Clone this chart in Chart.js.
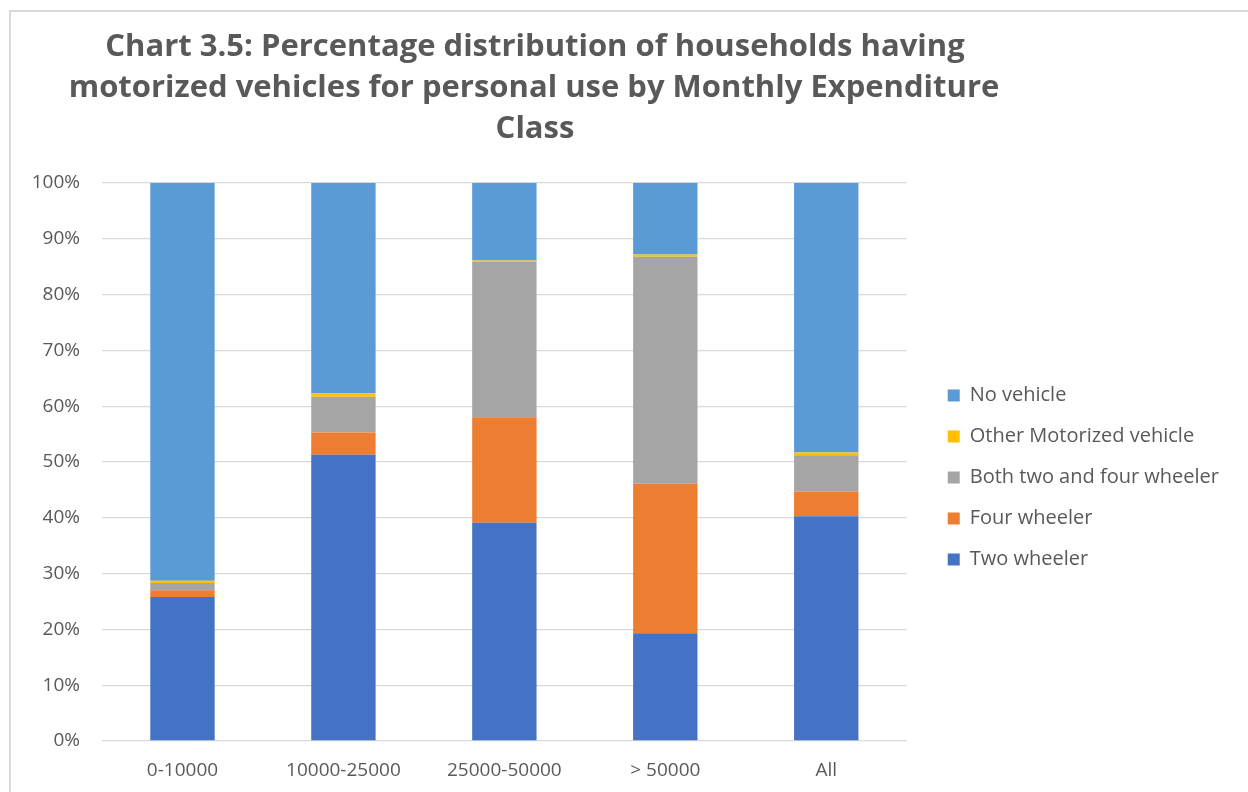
<!DOCTYPE html>
<html>
<head>
<meta charset="utf-8">
<script src="https://cdn.jsdelivr.net/npm/chart.js@4.4.1/dist/chart.umd.min.js"></script>
<style>
  html, body { margin: 0; padding: 0; background: #fff; }
  #wrap { position: relative; width: 1248px; height: 792px; }
</style>
</head>
<body>
<div id="wrap"><canvas id="c" width="1248" height="792"></canvas></div>
<script>
// data (percent of households)
var classes = ['0-10000', '10000-25000', '25000-50000', '> 50000', 'All']
var twoWheeler = [25.8, 51.3, 39.1, 19.3, 40.3]
var fourWheeler = [1.2, 4.0, 18.9, 26.8, 4.4]
var bothWheeler = [1.3, 6.4, 27.9, 40.7, 6.5]
var otherMotor = [0.4, 0.6, 0.2, 0.4, 0.5]
var noVehicle = [71.3, 37.7, 13.9, 12.8, 48.3]
var yTicks = [0, 10, 20, 30, 40, 50, 60, 70, 80, 90, 100]
var titleLines = ['Chart 3.5: Percentage distribution of households having',
  'motorized vehicles for personal use by Monthly Expenditure', 'Class']

var grey = '#595959'
var font = "'Open Sans', 'DejaVu Sans', sans-serif"

// title + outer frame, drawn straight on the canvas
var titlePlug = {
  id: 'titlePlug',
  beforeDraw: function (chart) {
    var ctx = chart.ctx
    ctx.save()
    ctx.fillStyle = '#fff'
    ctx.fillRect(0, 0, chart.width, chart.height)
    ctx.strokeStyle = '#d9d9d9'
    ctx.lineWidth = 2
    ctx.beginPath()
    ctx.moveTo(10, 792); ctx.lineTo(10, 11); ctx.lineTo(1248, 11)
    ctx.stroke()
    ctx.fillStyle = grey
    ctx.font = 'bold 31px ' + font
    ctx.textAlign = 'center'
    ctx.textBaseline = 'middle'
    ctx.fillText(titleLines[0], 535, 47, 860)
    ctx.fillText(titleLines[1], 534, 88, 933)
    ctx.fillText(titleLines[2], 535, 129)
    ctx.restore()
  }
}

function ds(label, data, color) {
  return { label: label, data: data, backgroundColor: color, borderWidth: 0,
    barPercentage: 0.4, categoryPercentage: 1.0 }
}

new Chart(document.getElementById('c'), {
  type: 'bar',
  data: {
    labels: classes,
    datasets: [
      ds('Two wheeler', twoWheeler, '#4472C4'),
      ds('Four wheeler', fourWheeler, '#ED7D31'),
      ds('Both two and four wheeler', bothWheeler, '#A5A5A5'),
      ds('Other Motorized vehicle', otherMotor, '#FFC000'),
      ds('No vehicle', noVehicle, '#5B9BD5')
    ]
  },
  options: {
    responsive: false,
    animation: false,
    devicePixelRatio: 1,
    layout: { padding: { top: 183, left: 20, right: 19, bottom: 0 } },
    plugins: {
      title: { display: false },
      tooltip: { enabled: false },
      legend: {
        position: 'right',
        reverse: true,
        fullSize: false,
        maxWidth: 400,
        title: { display: true, text: ' ', padding: 4, font: { size: 19 } },
        labels: {
          boxWidth: 12, boxHeight: 12, padding: 21, color: grey,
          font: { family: font, size: 20 }
        }
      }
    },
    scales: {
      x: {
        stacked: true,
        grid: { display: false },
        border: { display: false },
        afterFit: function (s) { s.height = 51 },
        ticks: { color: grey, padding: 10, autoSkip: false, maxRotation: 0, minRotation: 0,
          font: { family: font, size: 19 } }
      },
      y: {
        stacked: true,
        min: 0, max: 100,
        afterBuildTicks: function (s) { s.ticks = yTicks.map(function (v) { return { value: v } }) },
        afterFit: function (s) { s.width = 82 },
        grid: { color: '#d9d9d9', lineWidth: 1.3, drawTicks: false },
        border: { display: false },
        ticks: { color: grey, padding: 22, font: { family: font, size: 19 },
          callback: function (v) { return v + '%' } }
      },
      gap: {
        position: 'right', display: true,
        grid: { display: false }, border: { display: false },
        ticks: { display: false },
        afterFit: function (s) { s.width = 20 }
      }
    }
  },
  plugins: [titlePlug]
})
</script>
</body>
</html>
